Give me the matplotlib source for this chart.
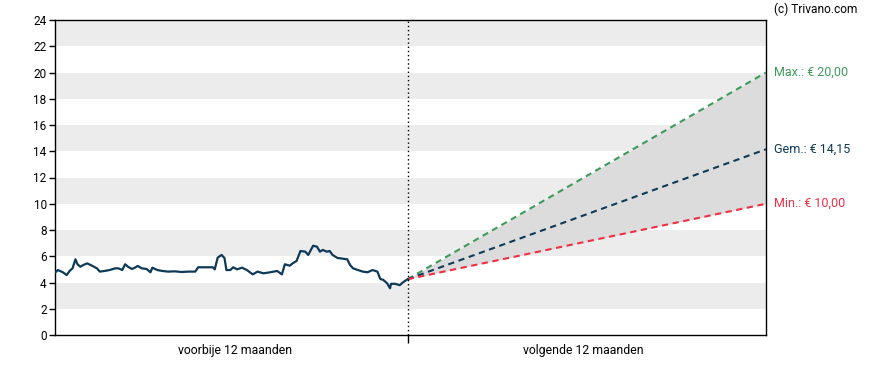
import numpy as np
import matplotlib.pyplot as plt

plt.rcParams['font.family'] = ['Roboto', 'DejaVu Sans']

# past 12 months (days since start) and closing price
days = [0, 3, 8, 12, 15, 18, 21, 23, 26, 29, 33, 38, 43, 46, 51, 56, 62, 65, 69, 72,
        75, 79, 82, 85, 89, 94, 98, 100, 105, 110, 116, 123, 130, 137, 144, 147, 154,
        162, 164, 167, 171, 174, 176, 180, 183, 187, 192, 197, 203, 208, 214, 221, 228,
        233, 236, 241, 244, 248, 252, 257, 260, 265, 269, 272, 275, 279, 282, 285, 290,
        295, 300, 303, 306, 311, 316, 321, 326, 331, 334, 337, 341, 344, 345, 349, 354,
        357, 362]
prices = [4.75, 4.95, 4.78, 4.57, 4.88, 5.08, 5.77, 5.4, 5.2, 5.33, 5.46, 5.28, 5.08,
          4.83, 4.88, 4.95, 5.08, 5.08, 4.95, 5.39, 5.2, 5.03, 5.13, 5.26, 5.08, 5.03,
          4.78, 5.13, 4.95, 4.88, 4.83, 4.85, 4.8, 4.83, 4.83, 5.16, 5.16, 5.16, 5.0,
          5.89, 6.1, 5.87, 4.95, 4.95, 5.16, 5.0, 5.13, 4.95, 4.62, 4.83, 4.7, 4.78,
          4.88, 4.62, 5.39, 5.28, 5.46, 5.64, 6.4, 6.35, 6.1, 6.8, 6.73, 6.35, 6.48,
          6.35, 6.4, 6.1, 5.87, 5.82, 5.77, 5.33, 5.08, 4.95, 4.83, 4.78, 4.95, 4.83,
          4.27, 4.2, 3.94, 3.56, 3.9, 3.9, 3.8, 4.0, 4.25]

# koersdoelen over 12 maanden
start_day, end_day = 362, 730
start_price = 4.25
target_max = 20.00
target_avg = 14.15
target_min = 10.00

labels_x = ['voorbije 12 maanden', 'volgende 12 maanden']
yticks = list(range(0, 25, 2))

c_max = '#3d9a5b'
c_avg = '#0e3a57'
c_min = '#ee2f45'

fig = plt.figure(figsize=(8.88, 3.7), dpi=100)
ax = fig.add_axes([55/888, 35/370, 711/888, 315/370])

ax.set_xlim(0, end_day)
ax.set_ylim(0, 24)

# alternating bands
for y0 in range(2, 24, 4):
    ax.axhspan(y0, y0 + 2, color='#ececec', lw=0, zorder=0)

fx = [start_day, end_day]
ax.fill_between(fx, [start_price, target_min], [start_price, target_max],
                color='#dcdcdc', lw=0, zorder=1)

ax.plot(days, prices, color=c_avg, lw=1.6, zorder=4)

for tgt, col in [(target_max, c_max), (target_avg, c_avg), (target_min, c_min)]:
    ax.plot(fx, [start_price, tgt], color=col, lw=1.5, ls=(0, (3, 2.2)), zorder=3)

ax.axvline(start_day, color='black', lw=1, ls=(0, (1, 2)), zorder=5)

ax.set_yticks(yticks)
ax.tick_params(axis='y', direction='out', length=4, width=1, labelsize=8.5, pad=2)
ax.set_xticks([start_day])
ax.set_xticklabels([''])
ax.tick_params(axis='x', direction='out', length=6, width=1)
for s in ax.spines.values():
    s.set_linewidth(1)
    s.set_color('black')

ax.text(0.253, -0.03, labels_x[0], transform=ax.transAxes, ha='center', va='top', fontsize=8.8)
ax.text(0.743, -0.03, labels_x[1], transform=ax.transAxes, ha='center', va='top', fontsize=8.8)

tx = 1 + 8/711
ax.text(tx, target_max, 'Max.: € 20,00', color=c_max, fontsize=9, va='center',
        transform=ax.get_yaxis_transform())
ax.text(tx, target_avg, 'Gem.: € 14,15', color=c_avg, fontsize=9, va='center',
        transform=ax.get_yaxis_transform())
ax.text(tx, target_min, 'Min.: € 10,00', color=c_min, fontsize=9, va='center',
        transform=ax.get_yaxis_transform())
fig.text(774/888, 1 - 9/370, '(c) Trivano.com', fontsize=8.6, va='center', ha='left')

fig.savefig('out.png', dpi=100)
